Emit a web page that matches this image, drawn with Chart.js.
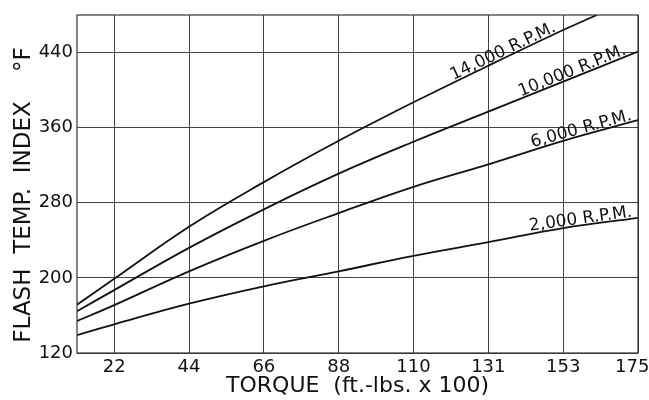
<!DOCTYPE html>
<html>
<head>
<meta charset="utf-8">
<script src="https://cdn.jsdelivr.net/npm/chart.js@4/dist/chart.umd.min.js"></script>
<style>
  html, body { margin: 0; padding: 0; background: #fff; }
  #wrap { width: 649px; height: 400px; position: relative; }
</style>
</head>
<body>
<div id="wrap"><canvas id="c"></canvas></div>
<script>
// Torque positions (ft.-lbs. x 100) at which curves were read
const torque = [11, 21.875, 43.75, 65.625, 87.5, 109.375, 131.25, 153.125, 175];
const torque14k = [11, 21.875, 43.75, 65.625, 87.5, 109.375, 131.25, 153.125, 163];

// Flash temperature index (°F) for each speed
const rpm2000  = [139, 150.5, 172.5, 191, 207, 223.5, 238, 253, 264];
const rpm6000  = [154, 171, 207, 239.5, 269, 297, 321, 346, 368];
const rpm10000 = [164.5, 187, 232, 273, 311, 345, 377, 409, 441];
const rpm14000 = [171.5, 199, 254.5, 302, 346, 387, 426, 464, 480];

const curveNames = ["2,000 R.P.M.", "6,000 R.P.M.", "10,000 R.P.M.", "14,000 R.P.M."];

// Axis ticks
const xTickValues = [21.875, 43.75, 65.625, 87.5, 109.375, 131.25, 153.125, 175];
const xTickLabels = ["22", "44", "66", "88", "110", "131", "153", "175  "];
const yTickValues = [120, 200, 280, 360, 440];
const yTickLabels = ["120", "200", "280", "360", "440"];

const FONT = "'DejaVu Sans', sans-serif";

function pts(xs, ys) { return xs.map((x, i) => ({x: x, y: ys[i]})); }

const labelEnds = { "2,000 R.P.M.": 173.5, "6,000 R.P.M.": 173.5, "10,000 R.P.M.": 172, "14,000 R.P.M.": 151.5 };

const curveLabels = {
  id: 'curveLabels',
  afterDatasetsDraw(chart) {
    const ctx = chart.ctx;
    const xs = chart.scales.x, ys = chart.scales.y;
    chart.data.datasets.forEach(ds => {
      const endX = labelEnds[ds.label];
      const d = ds.data;
      let i = 0;
      while (i < d.length - 2 && d[i + 1].x < endX) i++;
      const a = d[i], b = d[i + 1];
      const t = (endX - a.x) / (b.x - a.x);
      const yv = a.y + t * (b.y - a.y);
      const px = xs.getPixelForValue(endX), py = ys.getPixelForValue(yv);
      const ang = Math.atan2(ys.getPixelForValue(b.y) - ys.getPixelForValue(a.y),
                             xs.getPixelForValue(b.x) - xs.getPixelForValue(a.x));
      ctx.save();
      ctx.translate(px, py);
      ctx.rotate(ang);
      ctx.font = "17px " + FONT;
      ctx.fillStyle = "#111";
      ctx.textAlign = "right";
      ctx.textBaseline = "alphabetic";
      ctx.fillText(ds.label, 0, -2);
      ctx.restore();
    });
  }
};

const frame = {
  id: 'frame',
  afterDraw(chart) {
    const {left, top, right, bottom} = chart.chartArea;
    const ctx = chart.ctx;
    ctx.save();
    ctx.strokeStyle = "#333";
    ctx.lineWidth = 1.2;
    ctx.strokeRect(left, top, right - left, bottom - top);
    ctx.restore();
  }
};

const mk = (label, xs, ys) => ({
  label: label,
  data: pts(xs, ys),
  borderColor: "#111",
  borderWidth: 1.8,
  pointRadius: 0,
  fill: false,
  tension: 0.4
});

new Chart(document.getElementById('c'), {
  type: 'line',
  data: {
    datasets: [
      mk(curveNames[0], torque, rpm2000),
      mk(curveNames[1], torque, rpm6000),
      mk(curveNames[2], torque, rpm10000),
      mk(curveNames[3], torque14k, rpm14000)
    ]
  },
  options: {
    responsive: true,
    maintainAspectRatio: false,
    animation: false,
    layout: { padding: { top: 15, right: 11, left: 0, bottom: 0 } },
    plugins: { legend: { display: false }, tooltip: { enabled: false } },
    scales: {
      x: {
        type: 'linear',
        min: 11, max: 175,
        afterBuildTicks(s) { s.ticks = xTickValues.map(v => ({value: v})); },
        afterFit(s) { s.height = 47; s.paddingLeft = 0; s.paddingRight = 0; },
        grid: { color: "#444", lineWidth: 1, drawTicks: false },
        border: { display: false },
        ticks: {
          color: "#111",
          font: { family: FONT, size: 18 },
          padding: 4,
          maxRotation: 0,
          autoSkip: false,
          callback(v, i) { return xTickLabels[i]; }
        },
        title: {
          display: true,
          text: "TORQUE  (ft.-lbs. x 100)",
          color: "#111",
          font: { family: FONT, size: 22 },
          padding: { top: 0, bottom: 1 }
        }
      },
      y: {
        type: 'linear',
        min: 120, max: 480,
        afterBuildTicks(s) { s.ticks = yTickValues.map(v => ({value: v})); },
        afterFit(s) { s.width = 77; s.paddingTop = 0; s.paddingBottom = 0; },
        grid: { color: "#444", lineWidth: 1, drawTicks: false },
        border: { display: false },
        ticks: {
          color: "#111",
          font: { family: FONT, size: 18 },
          padding: 4,
          autoSkip: false,
          callback(v, i) { return yTickLabels[i]; }
        },
        title: {
          display: true,
          text: "FLASH  TEMP.  INDEX    °F   ",
          color: "#111",
          font: { family: FONT, size: 23 },
          padding: { top: 10, bottom: 0 }
        }
      }
    }
  },
  plugins: [curveLabels, frame]
});
</script>
</body>
</html>
